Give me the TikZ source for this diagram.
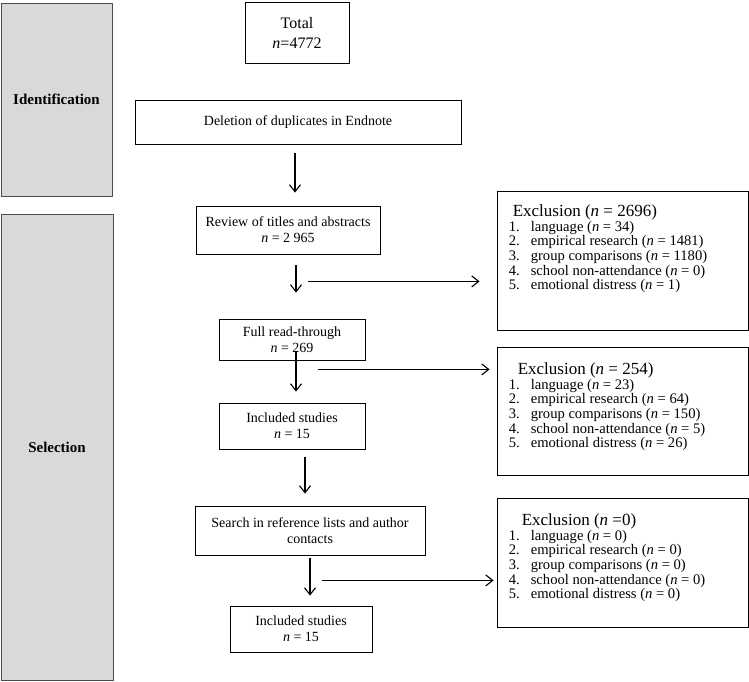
\documentclass[tikz,border=0pt]{standalone}
\usepackage{fontspec}
\setmainfont{Liberation Serif}
\usetikzlibrary{arrows.meta,positioning}

\begin{document}
\begin{tikzpicture}[x=1pt,y=-1pt,>={Straight Barb[length=7pt,width=11pt]}]
    \tikzstyle{box}=[rectangle, draw, line width=0.8pt, inner sep=0pt, align=center, font=\fontsize{14}{16}\selectfont]
    \tikzstyle{phase}=[box, fill=black!15, draw=black!70, font=\fontsize{15}{17}\selectfont\bfseries]
    \tikzstyle{list}=[inner sep=0pt, align=left, font=\fontsize{14.6}{14.6}\selectfont]
    \tikzstyle{flow}=[->, line width=1.1pt]

    \useasboundingbox (0,0) rectangle (749,681);

    % phases on the left
    \node[phase, minimum width=111, minimum height=193] (ident) at (56.5,99.5) {Identification};
    \node[phase, minimum width=112, minimum height=466] (sel) at (57,447) {Selection};

    % main flow
    \node[box, minimum width=104, minimum height=61, font=\fontsize{16}{20}\selectfont] (total) at (297,32.5) {Total\\\textit{n}=4772};
    \node[box, minimum width=326, minimum height=44] (dup) at (298,122) {Deletion of duplicates in Endnote};
    \node[box, minimum width=184, minimum height=48] (rev) at (288,230) {Review of titles and abstracts\\\textit{n} = 2 965};
    \node[box, minimum width=146, minimum height=41] (full) at (292,339.5) {Full read-through\\\textit{n} = 269};
    \node[box, minimum width=146, minimum height=46] (inc1) at (292,426) {Included studies\\\textit{n} = 15};
    \node[box, minimum width=230, minimum height=49] (search) at (310,530.5) {Search in reference lists and author\\contacts};
    \node[box, minimum width=142, minimum height=46] (inc2) at (301,629) {Included studies\\\textit{n} = 15};

    % exclusion boxes
    \node[box, minimum width=251, minimum height=139] (ex1) at (622.5,260.5) {};
    \node[box, minimum width=251, minimum height=128] (ex2) at (622.5,411) {};
    \node[box, minimum width=251, minimum height=129] (ex3) at (622.5,562.5) {};

    \node[list, below right=14pt and 12pt of ex1.north west] (ex1t) {%
        \hspace*{4pt}{\fontsize{17}{17}\selectfont Exclusion (\textit{n} = 2696)}\\
        \makebox[22pt][l]{1.}language (\textit{n} = 34)\\
        \makebox[22pt][l]{2.}empirical research (\textit{n} = 1481)\\
        \makebox[22pt][l]{3.}group comparisons (\textit{n} = 1180)\\
        \makebox[22pt][l]{4.}school non-attendance (\textit{n} = 0)\\
        \makebox[22pt][l]{5.}emotional distress (\textit{n} = 1)};
    \node[list, below right=16pt and 12pt of ex2.north west] (ex2t) {%
        \hspace*{9pt}{\fontsize{17}{17}\selectfont Exclusion (\textit{n} = 254)}\\
        \makebox[22pt][l]{1.}language (\textit{n} = 23)\\
        \makebox[22pt][l]{2.}empirical research (\textit{n} = 64)\\
        \makebox[22pt][l]{3.}group comparisons (\textit{n} = 150)\\
        \makebox[22pt][l]{4.}school non-attendance (\textit{n} = 5)\\
        \makebox[22pt][l]{5.}emotional distress (\textit{n} = 26)};
    \node[list, below right=16pt and 12pt of ex3.north west] (ex3t) {%
        \hspace*{13pt}{\fontsize{17}{17}\selectfont Exclusion (\textit{n} =0)}\\
        \makebox[22pt][l]{1.}language (\textit{n} = 0)\\
        \makebox[22pt][l]{2.}empirical research (\textit{n} = 0)\\
        \makebox[22pt][l]{3.}group comparisons (\textit{n} = 0)\\
        \makebox[22pt][l]{4.}school non-attendance (\textit{n} = 0)\\
        \makebox[22pt][l]{5.}emotional distress (\textit{n} = 0)};

    % arrows
    \coordinate (c1) at ([xshift=-3pt]dup.south);
    \coordinate (c2) at ([xshift=8pt]rev.south);
    \coordinate (c3) at ([xshift=4pt]full.south);
    \coordinate (c4) at ([xshift=13pt]inc1.south);
    \coordinate (c5) at (search.south);
    \coordinate (h2) at ([shift={(12pt,-27pt)}]c2);
    \coordinate (h3) at ([shift={(22pt,-9pt)}]c3);
    \coordinate (h5) at ([shift={(12pt,-25pt)}]c5);

    \draw[flow, shorten <=9pt, shorten >=13pt] (c1) -- (c1 |- rev.north);
    \draw[flow, shorten <=11pt, shorten >=26pt] (c2) -- (c2 |- full.north);
    \draw[flow, shorten <=-8pt, shorten >=11pt] (c3) -- (c3 |- inc1.north);
    \draw[flow, shorten <=8pt, shorten >=12pt] (c4) -- (c4 |- search.north);
    \draw[flow, shorten <=3pt, shorten >=10pt] (c5) -- (c5 |- inc2.north);
    \draw[flow, shorten >=17pt] (h2) -- (h2 -| ex1.west);
    \draw[flow, shorten >=7pt] (h3) -- (h3 -| ex2.west);
    \draw[flow, shorten >=3pt] (h5) -- (h5 -| ex3.west);
\end{tikzpicture}
\end{document}
